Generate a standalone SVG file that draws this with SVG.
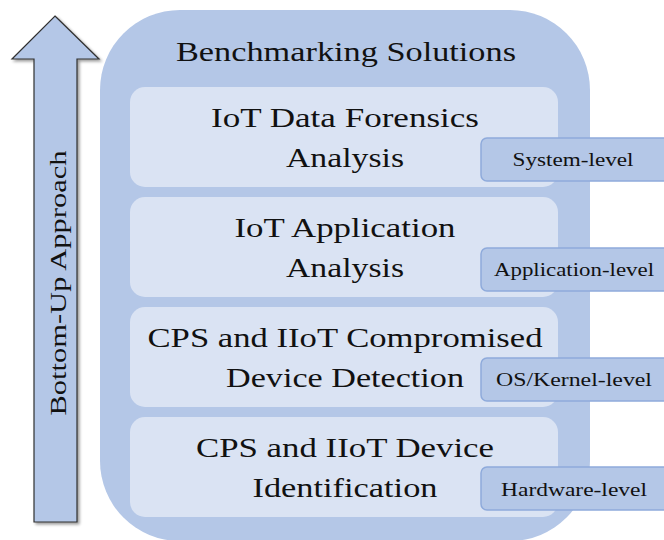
<svg xmlns="http://www.w3.org/2000/svg" width="664" height="540" viewBox="0 0 664 540">
  <defs>
    <filter id="shadow" x="-20%" y="-5%" width="140%" height="110%">
      <feGaussianBlur in="SourceAlpha" stdDeviation="1.5"/>
      <feOffset dx="2" dy="2" result="b"/>
      <feComponentTransfer><feFuncA type="linear" slope="0.4"/></feComponentTransfer>
      <feMerge><feMergeNode/><feMergeNode in="SourceGraphic"/></feMerge>
    </filter>
  </defs>
  <style>
    text { font-family: "Liberation Serif", "DejaVu Serif", serif; fill: #111; }
    .panel { fill: #b4c7e7; }
    .layer { fill: #dae3f3; }
    .tag { fill: #b4c7e7; stroke: #8eaadb; stroke-width: 1.5; }
    .big { font-size: 28px; text-anchor: middle; }
    .small { font-size: 18px; text-anchor: middle; }
  </style>

  <!-- upward arrow -->
  <g id="arrow">
    <path d="M55 16 L99 59 L77 59 L77 522 L34 522 L34 59 L12 59 Z" fill="#b4c7e7" stroke="#303030" stroke-width="1.2" filter="url(#shadow)"/>
    <text transform="translate(66 283) rotate(-90)" font-size="23" text-anchor="middle" textLength="265" lengthAdjust="spacingAndGlyphs">Bottom-Up Approach</text>
  </g>

  <!-- outer panel -->
  <g id="panel">
    <rect class="panel" x="100" y="10" width="490" height="531" rx="80" ry="80"/>
    <text class="big" x="346" y="61" textLength="340" lengthAdjust="spacingAndGlyphs">Benchmarking Solutions</text>
  </g>

  <g id="layer-forensics">
    <rect class="layer" x="130" y="87" width="428" height="100" rx="15"/>
    <text class="big" x="345" y="127" textLength="268" lengthAdjust="spacingAndGlyphs">IoT Data Forensics</text>
    <text class="big" x="345" y="167" textLength="118" lengthAdjust="spacingAndGlyphs">Analysis</text>
  </g>
  <g id="layer-application">
    <rect class="layer" x="130" y="197" width="428" height="100" rx="15"/>
    <text class="big" x="345" y="237" textLength="221" lengthAdjust="spacingAndGlyphs">IoT Application</text>
    <text class="big" x="345" y="277" textLength="118" lengthAdjust="spacingAndGlyphs">Analysis</text>
  </g>
  <g id="layer-compromised">
    <rect class="layer" x="130" y="307" width="428" height="100" rx="15"/>
    <text class="big" x="345" y="347" textLength="395" lengthAdjust="spacingAndGlyphs">CPS and IIoT Compromised</text>
    <text class="big" x="345" y="387" textLength="238" lengthAdjust="spacingAndGlyphs">Device Detection</text>
  </g>
  <g id="layer-identification">
    <rect class="layer" x="130" y="417" width="428" height="100" rx="15"/>
    <text class="big" x="345" y="457" textLength="298" lengthAdjust="spacingAndGlyphs">CPS and IIoT Device</text>
    <text class="big" x="345" y="497" textLength="185" lengthAdjust="spacingAndGlyphs">Identification</text>
  </g>

  <!-- level tags -->
  <g id="tag-system">
    <rect class="tag" x="481" y="138" width="190" height="43" rx="6"/>
    <text class="small" x="573" y="166" textLength="121" lengthAdjust="spacingAndGlyphs">System-level</text>
  </g>
  <g id="tag-application">
    <rect class="tag" x="481" y="248" width="190" height="43" rx="6"/>
    <text class="small" x="574" y="276" textLength="160" lengthAdjust="spacingAndGlyphs">Application-level</text>
  </g>
  <g id="tag-kernel">
    <rect class="tag" x="481" y="358" width="190" height="43" rx="6"/>
    <text class="small" x="574" y="386" textLength="156" lengthAdjust="spacingAndGlyphs">OS/Kernel-level</text>
  </g>
  <g id="tag-hardware">
    <rect class="tag" x="481" y="467" width="190" height="43" rx="6"/>
    <text class="small" x="574" y="496" textLength="146" lengthAdjust="spacingAndGlyphs">Hardware-level</text>
  </g>
</svg>
